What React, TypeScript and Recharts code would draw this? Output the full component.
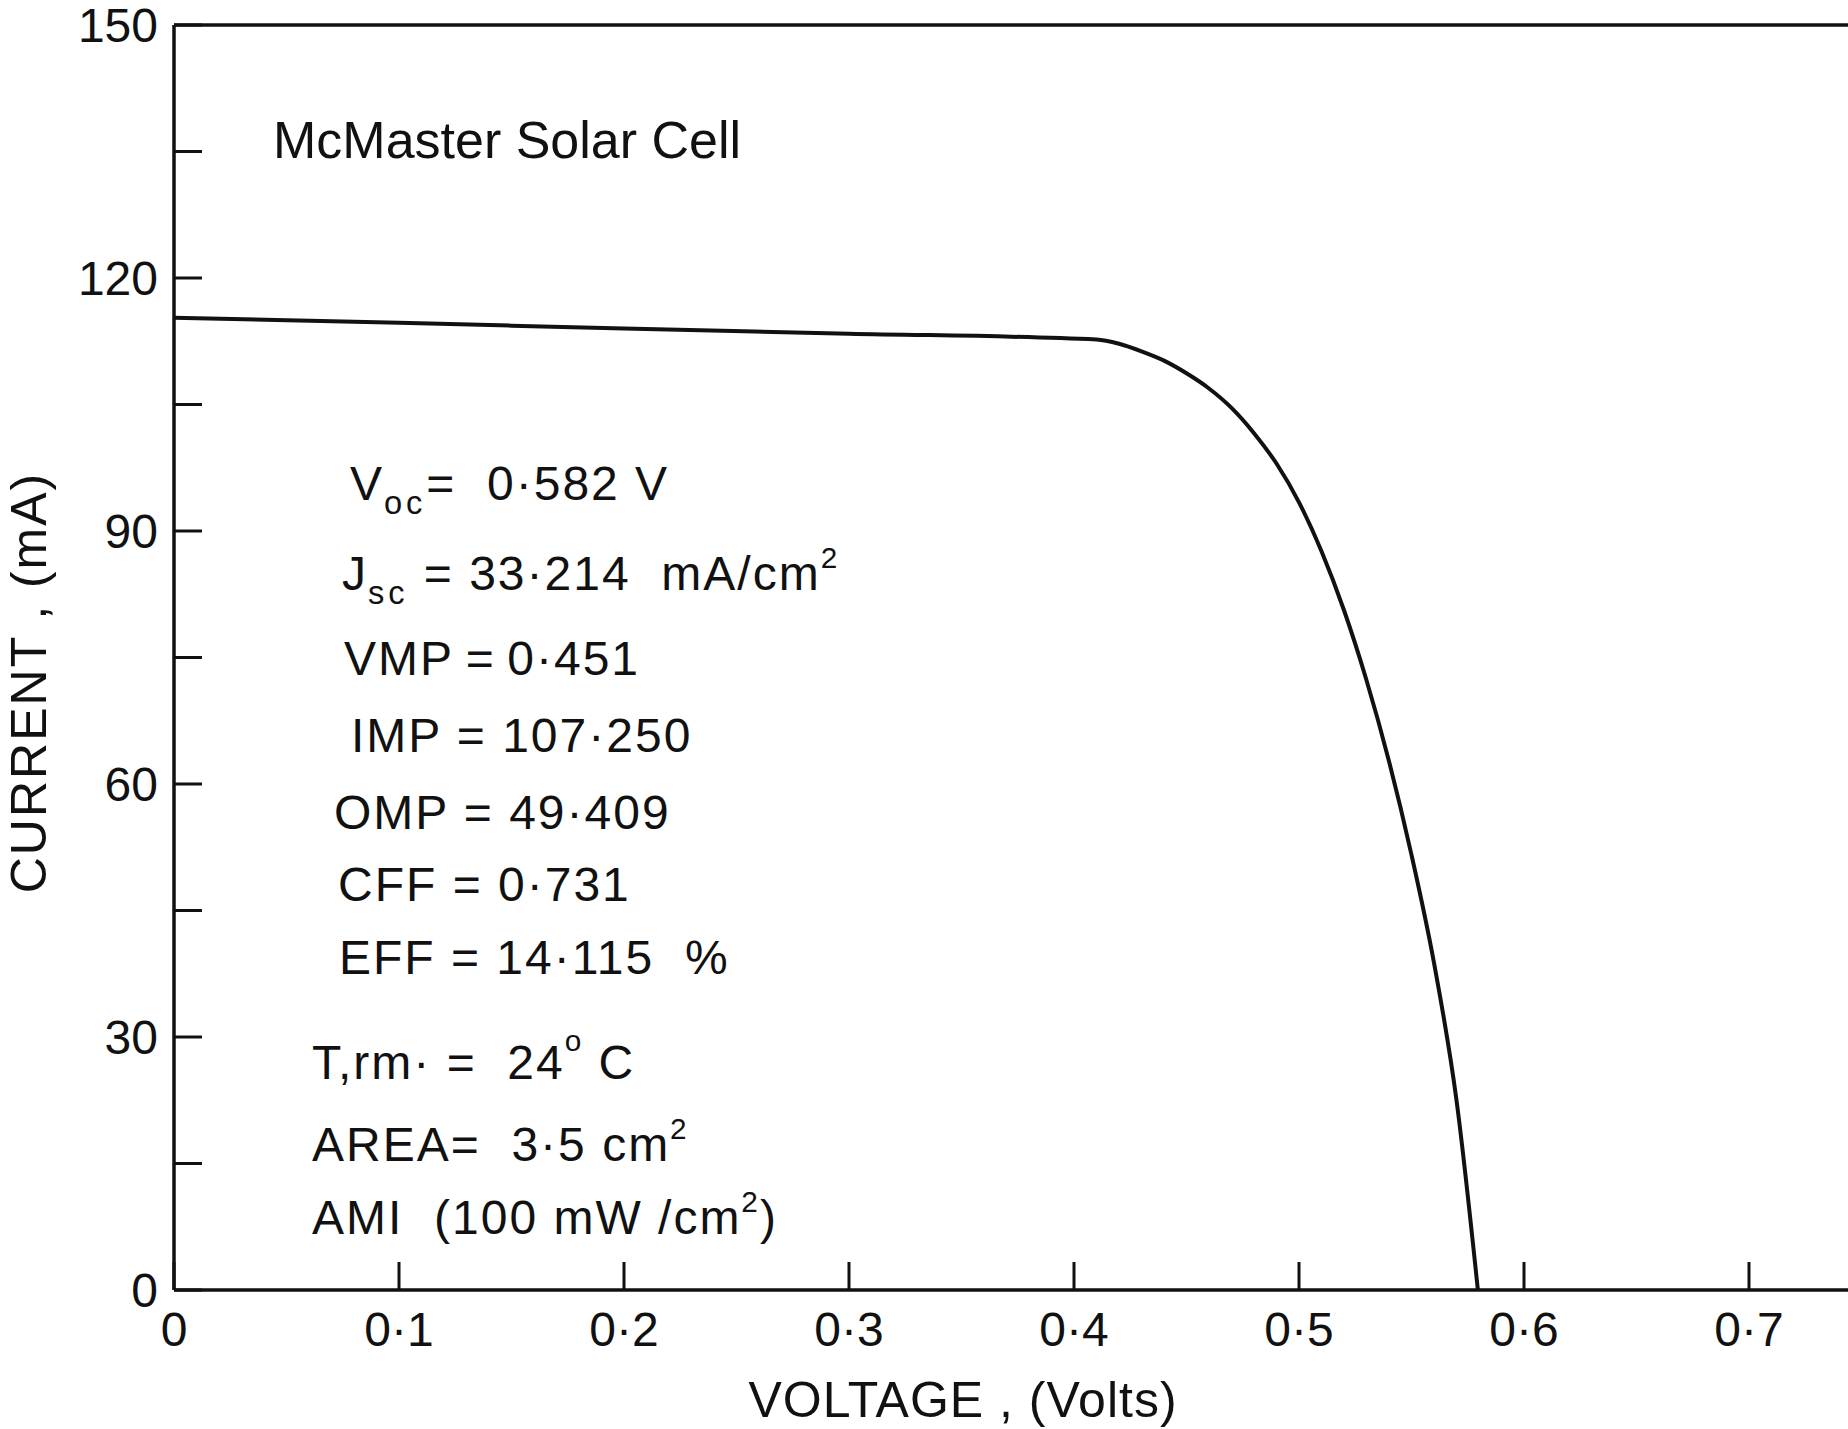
import React from "react";
import { LineChart, Line, XAxis, YAxis, ReferenceLine } from "recharts";

// I-V curve (volts, mA)
const voltage = [
  0, 0.1, 0.2, 0.3, 0.41, 0.42, 0.43, 0.44, 0.45, 0.46, 0.47, 0.48, 0.49, 0.5, 0.51, 0.52,
  0.53, 0.54, 0.55, 0.56, 0.57, 0.5795,
];
const current = [
  115.3, 114.7, 114.0, 113.4, 112.7, 112.2, 111.3, 110.2, 108.7, 106.9, 104.6, 101.6, 98.0,
  93.4, 87.6, 80.6, 72.3, 62.7, 51.6, 38.8, 22.5, 0,
];

const xTicks = [0, 0.1, 0.2, 0.3, 0.4, 0.5, 0.6, 0.7];
const xTickLabels = ["0", "0·1", "0·2", "0·3", "0·4", "0·5", "0·6", "0·7"];
const yTicks = [0, 15, 30, 45, 60, 75, 90, 105, 120, 135, 150];
const yTickLabels = ["0", "", "30", "", "60", "", "90", "", "120", "", "150"];

const chartTitle = "McMaster Solar Cell";
const xTitle = "VOLTAGE , (Volts)";
const yTitle = "CURRENT , (mA)";

const INK = "#111";
const FONT = "'Liberation Sans', Arial, sans-serif";

const rows = voltage.map((v, i) => ({ v, i: current[i] }));

const Sub = ({ children }: { children: React.ReactNode }) => (
  <span style={{ fontSize: "0.68em", verticalAlign: "-0.42em", letterSpacing: "0.12em" }}>{children}</span>
);
const Sup = ({ children, lift = "0.75em" }: { children: React.ReactNode; lift?: string }) => (
  <span style={{ fontSize: "0.62em", verticalAlign: lift }}>{children}</span>
);

// cell parameters as written on the sheet
const cellParams: React.ReactNode[] = [
  <>V<Sub>oc</Sub>=  0·582 V</>,
  <>J<Sub>sc</Sub> = 33·214  mA/cm<Sup>2</Sup></>,
  <>VMP{"\u2009"}={"\u2009"}0·451</>,
  <>IMP = 107·250</>,
  <>OMP = 49·409</>,
  <>CFF = 0·731</>,
  <>EFF = 14·115  %</>,
  <>T,rm· =  24<Sup lift="0.95em">o</Sup> C</>,
  <>AREA=  3·5 cm<Sup>2</Sup></>,
  <>AMI  (100 mW /cm<Sup>2</Sup>)</>,
];
const paramSpots = [
  [350, 460], [342, 543], [344, 635], [351, 712], [334, 789],
  [338, 861], [339, 934], [312, 1026], [312, 1114], [312, 1187],
];

const XTick = ({ x, y, payload, index }: any) => (
  <text x={x} y={y} dy="0.71em" textAnchor="middle" fontFamily={FONT} fontSize={48} fill={INK}>
    {xTickLabels[index] ?? payload.value}
  </text>
);

const YTick = ({ x, y, index }: any) =>
  yTickLabels[index] ? (
    <text x={x} y={y} dy="0.36em" textAnchor="end" fontFamily={FONT} fontSize={48} fill={INK}>
      {yTickLabels[index]}
    </text>
  ) : (
    <g />
  );

const YTitle = ({ viewBox }: any) => {
  const cx = viewBox.x + 28;
  const cy = viewBox.y + viewBox.height / 2 + 25;
  return (
    <text
      x={cx}
      y={cy}
      dy="0.36em"
      textAnchor="middle"
      transform={`rotate(-90, ${cx}, ${cy})`}
      fontFamily={FONT}
      fontSize={50}
      letterSpacing={2}
      fill={INK}
    >
      {yTitle}
    </text>
  );
};

const XTitle = ({ viewBox }: any) => (
  <text
    x={viewBox.x + 789}
    y={viewBox.y + 109}
    dy="0.36em"
    textAnchor="middle"
    fontFamily={FONT}
    fontSize={50}
    letterSpacing={1}
    fill={INK}
  >
    {xTitle}
  </text>
);

export default function App() {
  return (
    <div style={{ position: "relative", width: 1848, height: 1429, background: "#fff", overflow: "hidden" }}>
      <style>{"body{margin:0;background:#fff}"}</style>
      <LineChart width={1848} height={1429} data={rows} margin={{ top: 25, right: 0, bottom: 0, left: 0 }}>
        <XAxis
          dataKey="v"
          type="number"
          domain={[0, 0.744]}
          allowDataOverflow
          ticks={xTicks}
          interval={0}
          height={139}
          tickSize={-28}
          tickMargin={50}
          tick={<XTick />}
          axisLine={{ stroke: INK, strokeWidth: 3.5 }}
          tickLine={{ stroke: INK, strokeWidth: 3 }}
          label={XTitle}
        />
        <YAxis
          type="number"
          domain={[0, 150]}
          ticks={yTicks}
          interval={0}
          width={174}
          tickSize={-28}
          tickMargin={44}
          tick={<YTick />}
          axisLine={{ stroke: INK, strokeWidth: 3.5 }}
          tickLine={{ stroke: INK, strokeWidth: 3 }}
          label={YTitle}
        />
        <ReferenceLine y={150} stroke={INK} strokeWidth={3.5} />
        <Line
          type="monotone"
          dataKey="i"
          stroke={INK}
          strokeWidth={4}
          dot={false}
          isAnimationActive={false}
        />
      </LineChart>
      <div
        style={{
          position: "absolute",
          left: 273,
          top: 114,
          fontFamily: FONT,
          fontSize: 52,
          lineHeight: 1,
          color: INK,
          whiteSpace: "pre",
        }}
      >
        {chartTitle}
      </div>
      {cellParams.map((content, k) => (
        <div
          key={k}
          style={{
            position: "absolute",
            left: paramSpots[k][0],
            top: paramSpots[k][1],
            fontFamily: FONT,
            fontSize: 48,
            lineHeight: 1,
            letterSpacing: 2,
            color: INK,
            whiteSpace: "pre",
          }}
        >
          {content}
        </div>
      ))}
    </div>
  );
}
